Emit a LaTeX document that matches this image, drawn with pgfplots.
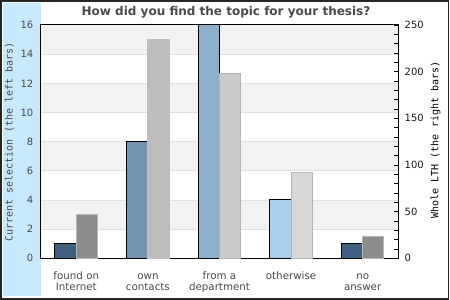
\documentclass[border=0pt]{standalone}
\usepackage{fontspec}
\setmainfont{DejaVu Sans}
\newfontfamily\monofont{DejaVu Sans Mono}
\usepackage{pgfplots}
\pgfplotsset{compat=1.18}
\definecolor{stripblue}{HTML}{C8E8FC}
\definecolor{band}{HTML}{F2F2F2}
\definecolor{gridc}{HTML}{E0E0E0}
\definecolor{bA}{HTML}{406080}
\definecolor{bB}{HTML}{7393B0}
\definecolor{bC}{HTML}{8DB0CD}
\definecolor{bD}{HTML}{AACFEC}
\definecolor{gA}{HTML}{8C8C8C}
\definecolor{gB}{HTML}{BDBDBD}
\definecolor{gC}{HTML}{CACACA}
\definecolor{gD}{HTML}{D7D7D7}
\definecolor{gborder}{HTML}{B5B5B5}
\definecolor{txtgray}{HTML}{4A4A4A}
\begin{document}
\begin{tikzpicture}[x=1pt,y=1pt]
\useasboundingbox (0,0) rectangle (450,300);
\fill[white] (0,0) rectangle (450,300);
\fill[stripblue] (3,4) rectangle (40.5,297);
\draw[black!85,line width=1.5pt] (0.75,0.75) rectangle (448.6,298.9);
\node[anchor=base,font=\bfseries\fontsize{12}{14}\selectfont,text=txtgray] at (226,284) {How did you find the topic for your thesis?};
\node[rotate=90,font=\monofont\fontsize{10}{12}\selectfont,text=txtgray] at (9.5,158) {Current selection (the left bars)};
\node[rotate=90,font=\monofont\fontsize{10}{12}\selectfont,text=black] at (435.5,160) {Whole LTH (the right bars)};
\begin{axis}[
  at={(40.5pt,41.7pt)}, anchor=south west,
  scale only axis, width=358pt, height=233.3pt,
  xmin=-0.5, xmax=4.5, ymin=0, ymax=16,
  xtick={0,1,2,3,4},
  xticklabels={{\rule{0pt}{8.5pt}found on\\Internet}, {\rule{0pt}{8.5pt}own\\contacts}, {\rule{0pt}{8.5pt}from a\\department}, {\rule{0pt}{8.5pt}otherwise}, {\rule{0pt}{8.5pt}no\\answer}},
  ytick={0,2,...,16},
  major tick length=0pt,
  ytick pos=left,
  axis line style={black,line width=1pt},
  /pgf/number format/assume math mode=true,
  xticklabel style={align=center,anchor=north,inner sep=0pt,yshift=-12.2pt,
    font=\fontsize{10.3}{11}\selectfont,text=txtgray},
  yticklabel style={anchor=east,inner sep=0pt,xshift=-7pt,font=\fontsize{10}{12}\selectfont,text=txtgray},
]
\fill[band] (axis cs:-0.5,2) rectangle (axis cs:4.5,4);
\fill[band] (axis cs:-0.5,6) rectangle (axis cs:4.5,8);
\fill[band] (axis cs:-0.5,10) rectangle (axis cs:4.5,12);
\fill[band] (axis cs:-0.5,14) rectangle (axis cs:4.5,16);
\foreach \g in {2,4,...,14} {
  \edef\temp{\noexpand\draw[gridc,line width=0.9pt] (axis cs:-0.5,\g) -- (axis cs:4.5,\g);}
  \temp
}
\addplot[ybar,bar width=21.3pt,bar shift=-10.65pt,fill=bA,draw=black,line width=1pt] coordinates {(0,1)};
\addplot[ybar,bar width=21.3pt,bar shift=-10.65pt,fill=bB,draw=black,line width=1pt] coordinates {(1,8)};
\addplot[ybar,bar width=21.3pt,bar shift=-10.65pt,fill=bC,draw=black,line width=1pt] coordinates {(2,16)};
\addplot[ybar,bar width=21.3pt,bar shift=-10.65pt,fill=bD,draw=black,line width=1pt] coordinates {(3,4)};
\addplot[ybar,bar width=21.3pt,bar shift=-10.65pt,fill=bA,draw=black,line width=1pt] coordinates {(4,1)};
\end{axis}
\begin{axis}[
  at={(40.5pt,41.7pt)}, anchor=south west,
  scale only axis, width=358pt, height=233.3pt,
  xmin=-0.5, xmax=4.5, ymin=0, ymax=250,
  axis x line=none,
  axis y line*=right,
  ytick={0,50,...,250},
  minor y tick num=4,
  tick align=inside,
  major tick length=4pt, minor tick length=4pt,
  tick style={black,line width=0.8pt},
  axis line style={black,line width=1pt},
  /pgf/number format/assume math mode=true,
  yticklabel style={anchor=west,inner sep=0pt,xshift=6pt,font=\fontsize{10}{12}\selectfont,text=black!90},
]
\addplot[ybar,bar width=21.3pt,bar shift=10.65pt,fill=gA,draw=gborder,line width=1pt] coordinates {(0,47)};
\addplot[ybar,bar width=21.3pt,bar shift=10.65pt,fill=gB,draw=gB,line width=1pt] coordinates {(1,234)};
\addplot[ybar,bar width=21.3pt,bar shift=10.65pt,fill=gC,draw=gborder,line width=1pt] coordinates {(2,198)};
\addplot[ybar,bar width=21.3pt,bar shift=10.65pt,fill=gD,draw=gborder,line width=1pt] coordinates {(3,92)};
\addplot[ybar,bar width=21.3pt,bar shift=10.65pt,fill=gA,draw=gborder,line width=1pt] coordinates {(4,23)};
\end{axis}
\end{tikzpicture}
\end{document}
